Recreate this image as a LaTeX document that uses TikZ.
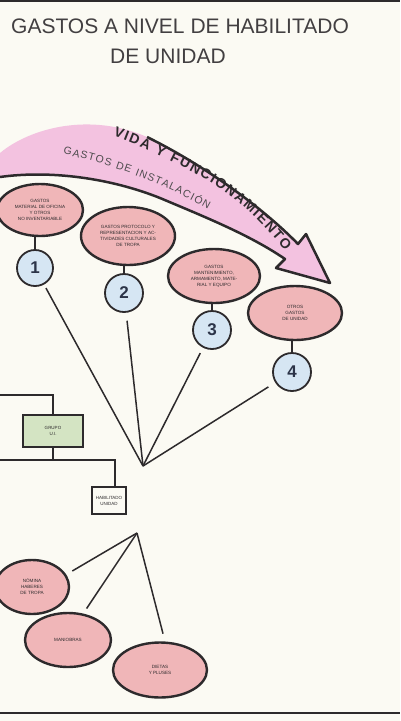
\documentclass[tikz,border=0pt]{standalone}
\usepackage{fontspec}
\setmainfont{Liberation Sans}
\usetikzlibrary{shapes.geometric,decorations.text,calc}

\definecolor{paper}{RGB}{251,250,243}
\definecolor{ink}{RGB}{45,42,44}
\definecolor{ovalpink}{RGB}{240,182,184}
\definecolor{bandpink}{RGB}{243,194,224}
\definecolor{numblue}{RGB}{214,230,243}
\definecolor{boxgreen}{RGB}{212,228,195}
\definecolor{numink}{RGB}{44,52,72}

\tikzset{
  oval/.style={ellipse, draw=ink, line width=2.4pt, fill=ovalpink, inner sep=0pt,
    align=center, font=\fontsize{4.6}{6}\selectfont, text=ink},
  numdisc/.style={circle, draw=ink, line width=1.8pt, fill=numblue, minimum size=38pt,
    inner sep=0pt, font=\fontsize{17}{17}\selectfont\bfseries, text=numink},
  tinybox/.style={rectangle, draw=ink, line width=1.5pt, inner sep=0pt, align=center,
    font=\fontsize{4.5}{6}\selectfont, text=ink},
  link/.style={draw=ink, line width=1.5pt},
  stem/.style={draw=ink, line width=1.8pt},
  heading/.style={font=\fontsize{21}{25}\selectfont, text=ink!90, anchor=base},
}

\begin{document}
\begin{tikzpicture}[x=1pt,y=-1pt]
\useasboundingbox (0,0) rectangle (400,721);
\clip (0,0) rectangle (400,721);
\fill[paper] (0,0) rectangle (400,721);

% page rules
\draw[ink, line width=2pt] (0,1) -- (400,1);
\draw[ink, line width=1.5pt] (0,713) -- (400,713);

% heading
\node[heading] (title1) at (180,33) {GASTOS A NIVEL DE HABILITADO};
\node[heading] (title2) at (168,63) {DE UNIDAD};

% curved band arrow
\fill[bandpink] (0,153) .. controls (30,128) and (90,112) .. (147,137)
  .. controls (200,163) and (260,205) .. (298,244) -- (306,234) -- (330,283)
  -- (276,268) -- (285,259) .. controls (250,235) and (205,217) .. (160,198)
  .. controls (110,178) and (50,170) .. (0,177) -- cycle;
\draw[ink, line width=2.5pt, line join=round] (147,137)
  .. controls (200,163) and (260,205) .. (298,244) -- (306,234) -- (330,283)
  -- (276,268) -- (285,259) .. controls (250,235) and (205,217) .. (160,198)
  .. controls (110,178) and (50,170) .. (0,177);

\path[decorate, decoration={text along path,
    text={|\fontsize{14}{14}\selectfont\bfseries|VIDA Y FUNCIONAMIENTO},
    text align={fit to path}, text color=ink}]
  (113,136) .. controls (150,150) and (170,160) .. (200,176)
  .. controls (235,195) and (262,222) .. (285,251);
\path[decorate, decoration={text along path,
    text={|\fontsize{10.5}{10.5}\selectfont|GASTOS DE INSTALACIÓN},
    text align={fit to path}, text color=ink!85}]
  (63,154) .. controls (110,164) and (160,182) .. (208,209);

% expense ovals
\node[oval, minimum width=86pt, minimum height=52pt] (e1) at (40,210)
  {GASTOS\\MATERIAL DE OFICINA\\Y OTROS\\NO INVENTARIABLE};
\node[oval, minimum width=94pt, minimum height=58pt] (e2) at (128,236)
  {GASTOS PROTOCOLO Y\\REPRESENTACION Y AC-\\TIVIDADES CULTURALES\\DE TROPA};
\node[oval, minimum width=92pt, minimum height=54pt] (e3) at (214,276)
  {GASTOS\\MANTENIMIENTO,\\ARMAMENTO, MATE-\\RIAL Y EQUIPO};
\node[oval, minimum width=94pt, minimum height=54pt] (e4) at (295,313)
  {OTROS\\GASTOS\\DE UNIDAD};

% numbered discs
\node[numdisc, minimum size=36pt] (c1) at (35,268) {1};
\node[numdisc] (c2) at (124,293) {2};
\node[numdisc] (c3) at (212,330) {3};
\node[numdisc] (c4) at (292,372) {4};

\draw[stem] (c1.north) -- (c1.north |- e1.south);
\draw[stem] (c2.north) -- (c2.north |- e2.south);
\draw[stem] (c3.north) -- (c3.north |- e3.south);
\draw[stem] (c4.north) -- (c4.north |- e4.south);

% upper fan
\coordinate (hubA) at (143,466);
\draw[link, shorten >=4pt] (hubA) -- (c1);
\draw[link, shorten >=8pt] (hubA) -- (c2);
\draw[link, shorten >=6pt] (hubA) -- (c3);
\draw[link, shorten >=8pt] (hubA) -- (c4);

% left-hand organisation chart
\node[tinybox, fill=boxgreen, minimum width=60pt, minimum height=32pt] (grupo) at (53,431)
  {GRUPO\\U.I.};
\node[tinybox, fill=paper, line width=1.8pt, minimum width=34pt, minimum height=27pt]
  (habil) at (109,500.5) {HABILITADO\\UNIDAD};
\coordinate (edgeA) at (0,395);
\coordinate (edgeB) at (0,460);
\coordinate (drop) at (115,460);
\draw[link] (grupo.north) |- (edgeA);
\draw[link] (grupo.south) -- (grupo.south |- edgeB);
\draw[link] (edgeB) -- (drop) -- (drop |- habil.north);

% lower ovals and fan
\node[oval, minimum width=74pt, minimum height=54pt] (eN) at (32,587)
  {NÓMINA\\HABERES\\DE TROPA};
\node[oval, minimum width=86pt, minimum height=54pt] (eM) at (68,640) {MANIOBRAS};
\node[oval, minimum width=94pt, minimum height=55pt] (eD) at (160,670)
  {DIETAS\\Y PLUSES};

\coordinate (hubB) at (137,533);
\draw[link, shorten >=7pt] (hubB) -- (eN.20);
\draw[link, shorten >=6pt] (hubB) -- (eM.60);
\draw[link, shorten >=8pt] (hubB) -- (eD.80);
\end{tikzpicture}
\end{document}
